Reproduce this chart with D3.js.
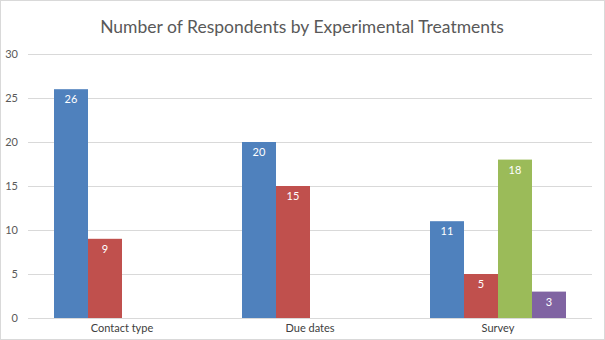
<!DOCTYPE html>
<html>
<head>
<meta charset="utf-8">
<script src="https://cdn.jsdelivr.net/npm/d3@7"></script>
<style>
  body { margin: 0; background: #fff; }
  svg { display: block; font-family: Lato, "Open Sans", sans-serif; }
</style>
</head>
<body>
<div id="container"></div>
<script>
/* DATA */
const categories = ["Contact type", "Due dates", "Survey"];
const seriesNames = ["Series1", "Series2", "Series3", "Series4"];
// one array per series, null = no bar
const series1 = [26, 20, 11];
const series2 = [9, 15, 5];
const series3 = [null, null, 18];
const series4 = [null, null, 3];
const yTicks = [0, 5, 10, 15, 20, 25, 30];

const colors = ["#4f81bd", "#c0504d", "#9bbb59", "#8064a2"];

const width = 605;
const height = 340;
const margin = {top: 54, bottom: 22, left: 28, right: 13};

const svg = d3.select("#container")
  .append("svg")
    .attr("width", width)
    .attr("height", height);

// frame
svg.append("rect")
  .attr("x", 0.5).attr("y", 0.5)
  .attr("width", width - 1).attr("height", height - 1)
  .attr("fill", "#fff")
  .attr("stroke", "#d9d9d9");

svg.append("text")
  .attr("x", 302)
  .attr("y", 33)
  .attr("text-anchor", "middle")
  .attr("fill", "#595959")
  .style("font-size", "17.5px")
  .text("Number of Respondents by Experimental Treatments");

const xScale = d3.scaleBand()
  .domain(categories)
  .range([margin.left, width - margin.right]);

const xInner = d3.scaleBand()
  .domain(seriesNames)
  .range([0, xScale.bandwidth()])
  .paddingOuter(0.765);

const yScale = d3.scaleLinear()
  .domain([0, 30])
  .range([height - margin.bottom, margin.top]);

// gridlines
svg.append("g")
  .selectAll("line")
  .data(yTicks)
  .join("line")
    .attr("x1", margin.left)
    .attr("x2", width - margin.right)
    .attr("y1", d => Math.round(yScale(d)) + 0.5)
    .attr("y2", d => Math.round(yScale(d)) + 0.5)
    .attr("stroke", "#d9d9d9");

// y labels
const yAxis = d3.axisLeft(yScale).tickValues(yTicks).tickSize(0).tickPadding(0);
const yAxisGroup = svg.append("g")
  .attr("transform", `translate(${18}, 0)`)
  .call(yAxis);
yAxisGroup.select(".domain").remove();
yAxisGroup.selectAll("text")
  .attr("fill", "#595959")
  .style("font-size", "11px")
  .style("font-family", "Lato, sans-serif");

// x labels
const xAxis = d3.axisBottom(xScale).tickSize(0).tickPadding(6);
const xAxisGroup = svg.append("g")
  .attr("transform", `translate(0, ${height - margin.bottom})`)
  .call(xAxis);
xAxisGroup.select(".domain").remove();
xAxisGroup.selectAll("text")
  .attr("fill", "#404040")
  .style("font-size", "11px")
  .style("font-family", "Lato, sans-serif");

// bars
const allSeries = [series1, series2, series3, series4];
const barData = [];
allSeries.forEach((vals, i) => {
  vals.forEach((v, j) => {
    if (v !== null) barData.push({cat: categories[j], s: seriesNames[i], i: i, value: v});
  });
});

const groups = svg.append("g");
groups.selectAll("rect.bar")
  .data(barData)
  .join("rect")
    .attr("class", "bar")
    .attr("x", d => xScale(d.cat) + xInner(d.s))
    .attr("y", d => yScale(d.value))
    .attr("width", xInner.bandwidth())
    .attr("height", d => yScale(0) - yScale(d.value))
    .attr("fill", d => colors[d.i]);

groups.selectAll("text.label")
  .data(barData)
  .join("text")
    .attr("class", "label")
    .attr("x", d => xScale(d.cat) + xInner(d.s) + xInner.bandwidth() / 2)
    .attr("y", d => yScale(d.value) + 14)
    .attr("text-anchor", "middle")
    .attr("fill", "#fff")
    .style("font-size", "11px")
    .text(d => d.value);
</script>
</body>
</html>
